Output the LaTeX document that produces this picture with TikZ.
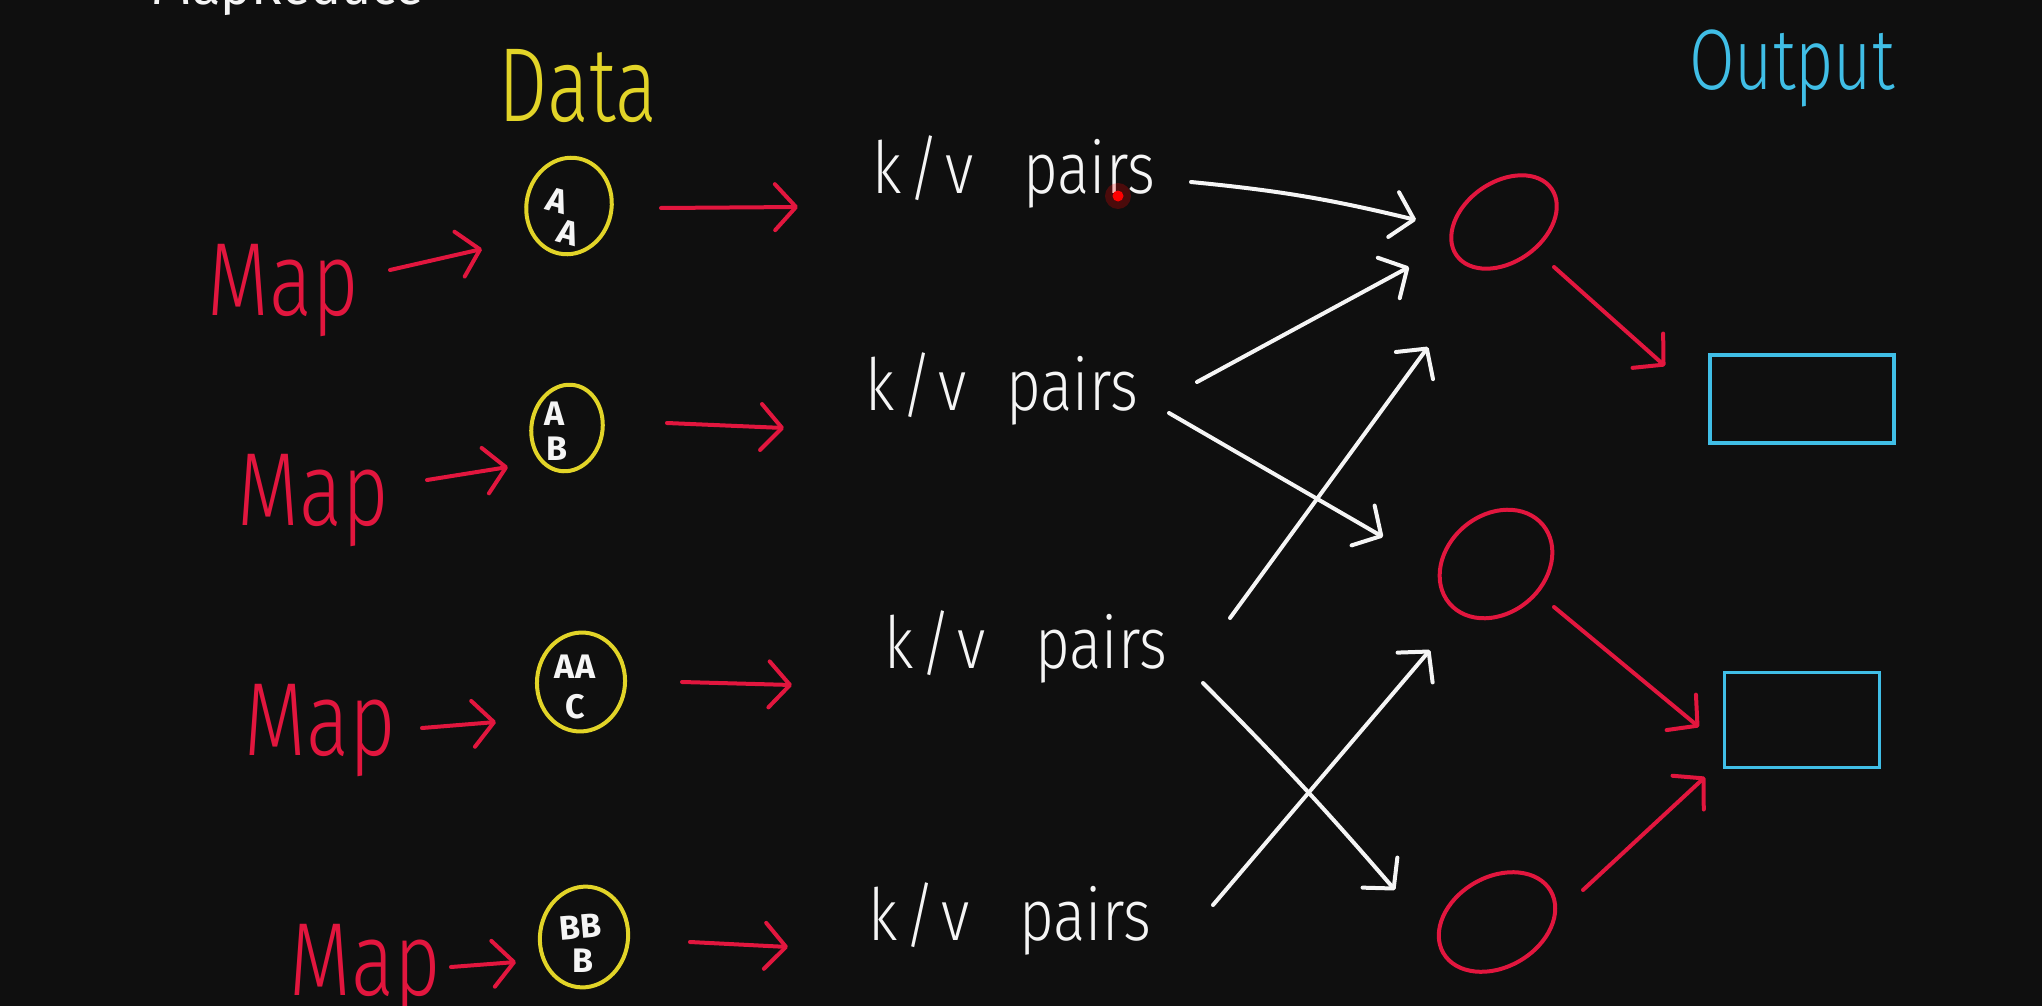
\documentclass[tikz,border=0pt]{standalone}
\usepackage{fontspec}
\usepackage{graphicx}
\setmainfont{Fira Sans}
\newfontfamily\hand{Fira Sans Light}
\usetikzlibrary{arrows.meta,shapes.geometric}
\definecolor{bg}{RGB}{15,15,15}
\definecolor{hred}{RGB}{226,22,62}
\definecolor{hyellow}{RGB}{226,212,40}
\definecolor{hcyan}{RGB}{64,190,230}
\definecolor{hwhite}{RGB}{245,245,245}
\newcommand{\tall}[2]{\scalebox{1}[#1]{#2}}
\begin{document}
\begin{tikzpicture}[x=1pt,y=-1pt,
  stroke/.style={line width=4pt,line cap=round,line join=round},
  tip/.style={-{Straight Barb[length=21pt,width=46pt,round]}},
  rarr/.style={stroke,draw=hred,tip},
  warr/.style={stroke,draw=hwhite,tip},
  maplabel/.style={anchor=base,inner sep=0pt,text=hred,font=\hand\fontsize{80}{90}\selectfont},
  kvlabel/.style={anchor=base,inner sep=0pt,text=hwhite,font=\hand\fontsize{60}{70}\selectfont},
  datacirc/.style={shape=ellipse,draw=hyellow,line width=4pt,inner sep=0pt},
  letter/.style={inner sep=0pt,text=hwhite,font=\bfseries\fontsize{34}{36}\selectfont},
  reducer/.style={shape=ellipse,draw=hred,line width=4pt,inner sep=0pt},
  outbox/.style={rectangle,draw=hcyan,line width=3.5pt,inner sep=0pt}
]
\fill[bg] (0,0) rectangle (2042,1006);
\useasboundingbox (0,0) rectangle (2042,1006);

\begin{scope}
\clip (0,0) rectangle (2042,1006);
\node[anchor=base,inner sep=0pt,text=hwhite,font=\fontsize{52}{60}\selectfont] (title) at (288,5) {MapReduce};

% headings
\node[anchor=base,inner sep=0pt,text=hyellow,font=\hand\fontsize{78}{90}\selectfont] (datahead) at (578,122) {\tall{1.35}{Data}};
\node[anchor=base,inner sep=0pt,text=hcyan,font=\hand\fontsize{66}{76}\selectfont] (outhead) at (1792,90) {\tall{1.3}{Output}};

% Map labels
\node[maplabel] (map1) at (283,315) {\tall{1.3}{Map}};
\node[maplabel] (map2) at (313,525) {\tall{1.3}{Map}};
\node[maplabel] (map3) at (320,755) {\tall{1.3}{Map}};
\node[maplabel] (map4) at (365,995) {\tall{1.3}{Map}};
\end{scope}

% data circles
\node[datacirc,minimum width=85pt,minimum height=97pt,rotate=-12] (d1) at (569,206) {};
\node[datacirc,minimum width=71pt,minimum height=87pt,rotate=-10] (d2) at (567,428) {};
\node[datacirc,minimum width=88pt,minimum height=99pt,rotate=-5] (d3) at (581,682) {};
\node[datacirc,minimum width=88pt,minimum height=101pt,rotate=-8] (d4) at (584,937) {};

\node[letter,rotate=-15] (d1a) at (557,201) {A};
\node[letter,rotate=-15] (d1b) at (568,233) {A};
\node[letter] (d2a) at (555,414) {A};
\node[letter] (d2b) at (557,449) {B};
\node[letter] (d3a) at (575,667) {AA};
\node[letter] (d3b) at (575,707) {C};
\node[letter,rotate=5] (d4a) at (580,927) {BB};
\node[letter] (d4b) at (583,961) {B};

% k/v pairs
\node[kvlabel] (kv1) at (1014,193) {\tall{1.2}{k\hspace{6pt}/\hspace{6pt}v\hspace{50pt}pairs}};
\node[kvlabel] (kv2) at (1002,410) {\tall{1.2}{k\hspace{6pt}/\hspace{6pt}v\hspace{40pt}pairs}};
\node[kvlabel] (kv3) at (1026,668) {\tall{1.2}{k\hspace{6pt}/\hspace{6pt}v\hspace{50pt}pairs}};
\node[kvlabel] (kv4) at (1010,940) {\tall{1.2}{k\hspace{6pt}/\hspace{6pt}v\hspace{50pt}pairs}};

% reducers
\node[reducer,minimum width=116pt,minimum height=80pt,rotate=35] (r1) at (1504,222) {};
\node[reducer,minimum width=122pt,minimum height=98pt,rotate=40] (r2) at (1496,564) {};
\node[reducer,minimum width=124pt,minimum height=90pt,rotate=30] (r3) at (1497,922) {};

% outputs
\node[outbox,minimum width=184pt,minimum height=88pt] (o1) at (1802,399) {};
\node[outbox,minimum width=155pt,minimum height=95pt] (o2) at (1802,720) {};

% laser pointer
\fill[red,opacity=0.25] (1118,196) circle (13pt);
\node[circle,fill=red,inner sep=0pt,minimum size=11pt] (laser) at (1118,196) {};

% Map -> data
\draw[rarr] ([shift={(107,-45)}]map1.base) -- ([shift={(-87,43)}]d1.center);
\draw[rarr] ([shift={(114,-45)}]map2.base) -- ([shift={(-59,39)}]d2.center);
\draw[rarr] ([shift={(102,-27)}]map3.base) -- ([shift={(-85,40)}]d3.center);
\draw[rarr] ([shift={(86,-28)}]map4.base) -- ([shift={(-68,25)}]d4.center);

% data -> k/v
\draw[rarr] ([shift={(92,2)}]d1.center) -- ([shift={(-216,14)}]kv1.base);
\draw[rarr] ([shift={(100,-5)}]d2.center) -- ([shift={(-218,18)}]kv2.base);
\draw[rarr] ([shift={(101,0)}]d3.center) -- ([shift={(-234,17)}]kv3.base);
\draw[rarr] ([shift={(106,5)}]d4.center) -- ([shift={(-222,7)}]kv4.base);

% k/v -> reducers
\draw[warr] ([shift={(177,-11)}]kv1.base) to[bend left=4] ([shift={(-88,-2)}]r1.center);
\draw[warr] ([shift={(195,-28)}]kv2.base) -- ([shift={(-95,45)}]r1.center);
\draw[warr] ([shift={(167,3)}]kv2.base) -- ([shift={(-113,-27)}]r2.center);
\draw[warr] ([shift={(204,-50)}]kv3.base) -- ([shift={(-76,125)}]r1.center);
\draw[warr] ([shift={(177,15)}]kv3.base) to[bend left=2] ([shift={(-102,-32)}]r3.center);
\draw[warr] ([shift={(203,-35)}]kv4.base) -- ([shift={(-66,86)}]r2.center);

% reducers -> outputs
\draw[rarr] ([shift={(50,45)}]r1.center) -- ([shift={(-137,-33)}]o1.center);
\draw[rarr] ([shift={(58,43)}]r2.center) -- ([shift={(-103,7)}]o2.center);
\draw[rarr] ([shift={(86,-32)}]r3.center) -- ([shift={(-97,57)}]o2.center);
\end{tikzpicture}
\end{document}
